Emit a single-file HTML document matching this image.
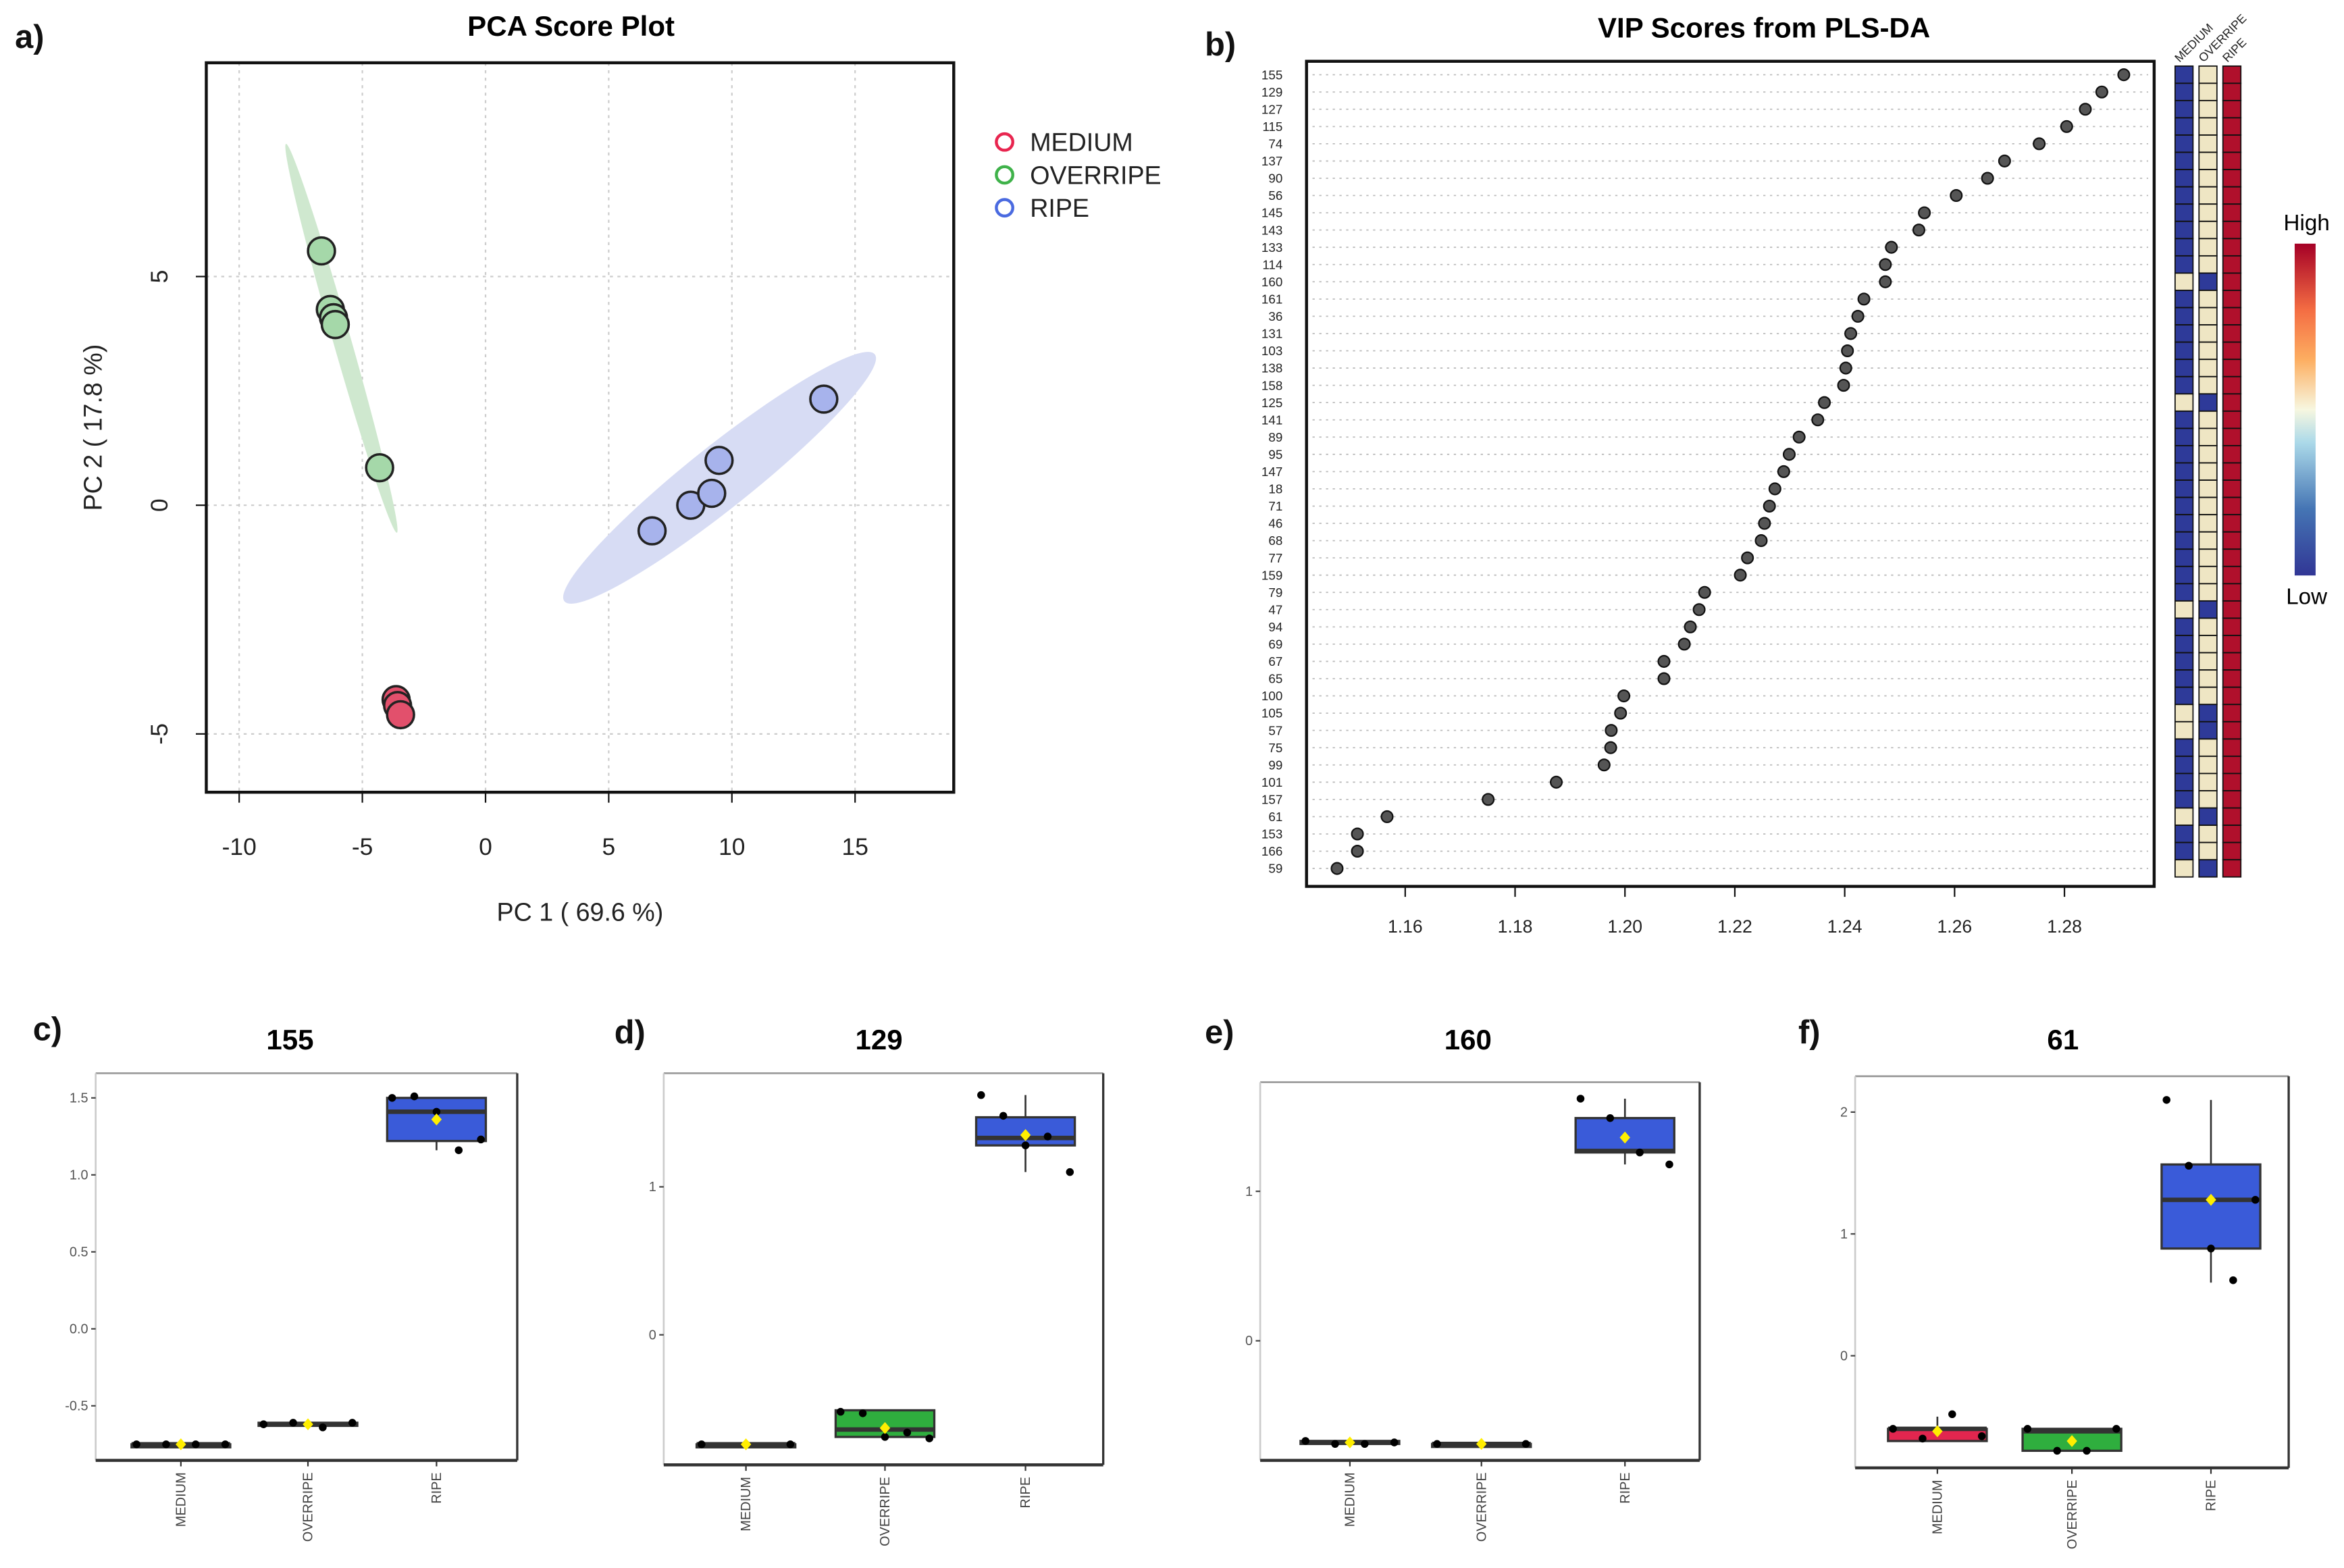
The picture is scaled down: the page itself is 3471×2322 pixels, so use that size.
<!DOCTYPE html>
<html><head><meta charset="utf-8"><style>
html,body{margin:0;padding:0;background:#fff}
svg{display:block}
text{font-family:"Liberation Sans",sans-serif}
</style></head><body>
<svg id="fig" width="3471" height="2322" viewBox="0 0 1568 1049" preserveAspectRatio="none" xmlns="http://www.w3.org/2000/svg"></svg>
<script>
// ---------- PCA data ----------
const pcaGroups = ["MEDIUM","OVERRIPE","RIPE"];
const pcaX_medium = [-3.63,-3.57,-3.45];
const pcaY_medium = [-4.25,-4.38,-4.58];
const pcaX_overripe = [-6.66,-6.3,-6.17,-6.1,-4.3];
const pcaY_overripe = [5.56,4.28,4.1,3.95,0.82];
const pcaX_ripe = [6.76,8.33,9.18,9.48,13.73];
const pcaY_ripe = [-0.56,0.0,0.26,0.98,2.32];
const pcaXTicks = [-10,-5,0,5,10,15];
const pcaYTicks = [5,0,-5];
// ---------- VIP data ----------
const vipLabels = ["155","129","127","115","74","137","90","56","145","143","133","114","160","161","36","131","103","138","158","125","141","89","95","147","18","71","46","68","77","159","79","47","94","69","67","65","100","105","57","75","99","101","157","61","153","166","59"];
const vipScores = [1.2908,1.2868,1.2838,1.2804,1.2754,1.2691,1.2660,1.2603,1.2545,1.2535,1.2485,1.2474,1.2474,1.2435,1.2424,1.2411,1.2405,1.2402,1.2398,1.2363,1.2351,1.2317,1.2299,1.2289,1.2273,1.2263,1.2254,1.2248,1.2223,1.2210,1.2145,1.2135,1.2119,1.2108,1.2071,1.2071,1.1998,1.1992,1.1975,1.1974,1.1962,1.1875,1.1751,1.1567,1.1513,1.1513,1.1476];
const heatMedium = [0,0,0,0,0,0,0,0,0,0,0,0,1,0,0,0,0,0,0,1,0,0,0,0,0,0,0,0,0,0,0,1,0,0,0,0,0,1,1,0,0,0,0,1,0,0,1];
const vipTicks = [1.16,1.18,1.20,1.22,1.24,1.26,1.28];
// ---------- Boxplot data ----------
const boxCats = ["MEDIUM","OVERRIPE","RIPE"];
const boxTitles = ["155","129","160","61"];
const boxQ1 = [[-0.75,-0.63,1.22],[-0.74,-0.69,1.28],[-0.69,-0.69,1.26],[-0.7,-0.78,0.88]];
const boxMed = [[-0.75,-0.62,1.41],[-0.74,-0.64,1.33],[-0.68,-0.69,1.27],[-0.6,-0.62,1.28]];
const boxQ3 = [[-0.75,-0.61,1.5],[-0.74,-0.51,1.47],[-0.67,-0.69,1.49],[-0.6,-0.6,1.57]];
const boxLo = [[-0.75,-0.63,1.16],[-0.74,-0.69,1.1],[-0.69,-0.69,1.18],[-0.7,-0.78,0.6]];
const boxHi = [[-0.75,-0.61,1.5],[-0.74,-0.51,1.62],[-0.67,-0.69,1.62],[-0.5,-0.6,2.1]];
const boxMean = [[-0.75,-0.62,1.36],[-0.74,-0.63,1.35],[-0.68,-0.69,1.36],[-0.62,-0.7,1.28]];
const boxPts = [
 [[-0.75,-0.75,-0.75,-0.75],[-0.62,-0.61,-0.64,-0.61],[1.5,1.51,1.41,1.16,1.23]],
 [[-0.74,-0.74,-0.74],[-0.52,-0.53,-0.69,-0.66,-0.7],[1.62,1.48,1.28,1.34,1.1]],
 [[-0.67,-0.69,-0.69,-0.68],[-0.69,-0.69,-0.69],[1.62,1.49,1.26,1.18]],
 [[-0.6,-0.68,-0.48,-0.66],[-0.6,-0.78,-0.78,-0.6],[2.1,1.56,0.88,0.62,1.28]]
];
const boxYTicks = [[1.5,1.0,0.5,0.0,-0.5],[1,0],[1,0],[2,1,0]];
const boxYTickLabels = [["1.5","1.0","0.5","0.0","-0.5"],["1","0"],["1","0"],["2","1","0"]];

const NS="http://www.w3.org/2000/svg";
const svg=document.getElementById('fig');
function mk(tag,attrs,parent,txt){const e=document.createElementNS(NS,tag);for(const k in attrs)e.setAttribute(k,attrs[k]);if(txt!==undefined)e.textContent=txt;(parent||svg).appendChild(e);return e;}

const letters=[["a)",10,32],["b)",806,37],["c)",22,696],["d)",411,698],["e)",806,698],["f)",1203,698]];
letters.forEach(l=>{const t=mk('text',{x:l[1],y:l[2],'font-size':22,'font-weight':'bold',fill:'#111'},svg,l[0]);

});

// ===== PCA =====
const gA=mk('g',{});


const px=v=>324.8+v*16.48, py=v=>338-v*30.6;
let t=mk('text',{x:382,y:24,'font-size':19,'font-weight':'bold','text-anchor':'middle'},gA,'PCA Score Plot');


pcaXTicks.forEach(v=>{const l=mk('line',{x1:px(v),x2:px(v),y1:42,y2:530,stroke:'#ccc','stroke-dasharray':'2,3'},gA);

});
pcaYTicks.forEach(v=>{const l=mk('line',{x1:138,x2:638,y1:py(v),y2:py(v),stroke:'#ccc','stroke-dasharray':'2,3'},gA);

});
function ell(x1,y1,x2,y2,w,fill,name){const cx=(x1+x2)/2,cy=(y1+y2)/2,len=Math.hypot(x2-x1,y2-y1)/2,ang=Math.atan2(y2-y1,x2-x1)*180/Math.PI;
const e=mk('ellipse',{cx,cy,rx:len,ry:w,fill,transform:`rotate(${ang} ${cx} ${cy})`},gA);

}
ell(px(-8.1),py(7.9),px(-3.6),py(-0.6),6,'#cfe8cf','overripe-ellipse');
ell(px(3.2),py(-2.1),px(15.8),py(3.3),21,'#d7dcf4','ripe-ellipse');
function pts(xs,ys,fill,name){xs.forEach((x,i)=>{const c=mk('circle',{cx:px(x),cy:py(ys[i]),r:9,fill,stroke:'#222','stroke-width':1.6},gA);

});}
pts(pcaX_overripe,pcaY_overripe,'#a5d8a9','overripe-point');
pts(pcaX_ripe,pcaY_ripe,'#a7b3ec','ripe-point');
pts(pcaX_medium,pcaY_medium,'#e2506c','medium-point');
let r=mk('rect',{x:138,y:42,width:500,height:488,fill:'none',stroke:'#111','stroke-width':2},gA);


pcaXTicks.forEach(v=>{mk('line',{x1:px(v),x2:px(v),y1:530,y2:537,stroke:'#111'},gA);
const tt=mk('text',{x:px(v),y:572,'font-size':16,'text-anchor':'middle',fill:'#222'},gA,String(v));

});
pcaYTicks.forEach(v=>{mk('line',{x1:131,x2:138,y1:py(v),y2:py(v),stroke:'#111'},gA);
const tt=mk('text',{x:112,y:py(v),'font-size':16,'text-anchor':'middle',fill:'#222',transform:`rotate(-90 112 ${py(v)})`},gA,String(v));

});
t=mk('text',{x:388,y:616,'font-size':17,'text-anchor':'middle',fill:'#222'},gA,'PC 1 ( 69.6 %)');


t=mk('text',{x:68,y:286,'font-size':17,'text-anchor':'middle',fill:'#222',transform:'rotate(-90 68 286)'},gA,'PC 2 ( 17.8 %)');


const legC=['#e8254f','#3fb24a','#4a6ae0'];
pcaGroups.forEach((g,i)=>{const gy=95+i*22;const lg=mk('g',{},gA);


mk('circle',{cx:672,cy:gy,r:5.5,fill:'none',stroke:legC[i],'stroke-width':2},lg);mk('text',{x:689,y:gy+6,'font-size':17,fill:'#222'},lg,g);});

// ===== VIP =====
const gB=mk('g',{});


const vx=v=>940+(v-1.16)*(441/0.12), vy=i=>50+i*(531/46);
t=mk('text',{x:1180,y:25,'font-size':19,'font-weight':'bold','text-anchor':'middle'},gB,'VIP Scores from PLS-DA');


vipLabels.forEach((lab,i)=>{const y=vy(i);
const g=mk('line',{x1:878,x2:1437,y1:y,y2:y,stroke:'#bbb','stroke-dasharray':'1.5,3','stroke-width':0.8},gB);


const tl=mk('text',{x:858,y:y+3,'font-size':8.5,'text-anchor':'end',fill:'#222'},gB,lab);


const c=mk('circle',{cx:vx(vipScores[i]),cy:y,r:3.8,fill:'#555',stroke:'#111','stroke-width':1},gB);


const cols=[heatMedium[i]?'#efe6c4':'#2e3a99',heatMedium[i]?'#2e3a99':'#efe6c4','#b0102c'];
cols.forEach((cc,j)=>{const hr=mk('rect',{x:1455+j*16,y:y-5.8,width:12,height:11.5,fill:cc,stroke:'#111','stroke-width':0.8},gB);

});
});
r=mk('rect',{x:874,y:41,width:567,height:552,fill:'none',stroke:'#111','stroke-width':2},gB);


vipTicks.forEach(v=>{mk('line',{x1:vx(v),x2:vx(v),y1:593,y2:600,stroke:'#111'},gB);
const tt=mk('text',{x:vx(v),y:624,'font-size':12,'text-anchor':'middle',fill:'#222'},gB,v.toFixed(2));

});
['MEDIUM','OVERRIPE','RIPE'].forEach((c,j)=>{const x=1458+j*16,y=42;const tt=mk('text',{x,y,'font-size':8,fill:'#222',transform:`rotate(-45 ${x} ${y})`},gB,c);

});
const defs=mk('defs',{});const lgd=mk('linearGradient',{id:'cb',x1:0,y1:1,x2:0,y2:0},defs);
[['0','#313695'],['0.2','#4575b4'],['0.4','#abd9e9'],['0.5','#f7f7e0'],['0.65','#fdae61'],['0.8','#f46d43'],['1','#a50026']].forEach(s=>mk('stop',{offset:s[0],'stop-color':s[1]},lgd));
r=mk('rect',{x:1535,y:163,width:14,height:222,fill:'url(#cb)'},gB);


t=mk('text',{x:1543,y:154,'font-size':15,'text-anchor':'middle'},gB,'High');


t=mk('text',{x:1543,y:404,'font-size':15,'text-anchor':'middle'},gB,'Low');



// ===== Boxplots =====
const panels=[{x0:64,x1:346,y0:718,y1:977,z:889,s:103,cx:[121,206,292]},
{x0:444,x1:738,y0:718,y1:980,z:893,s:99,cx:[499,592,686]},
{x0:843,x1:1137,y0:724,y1:977,z:897,s:100,cx:[903,991,1087]},
{x0:1241,x1:1531,y0:720,y1:982,z:907,s:81.5,cx:[1296,1386,1479]}];
const titleX=[194,588,982,1380];
const fills=['#e2264f','#2fae3e','#3a5bd9'];
panels.forEach((P,k)=>{const g=mk('g',{});


const by=v=>P.z-v*P.s;
const tt=mk('text',{x:titleX[k],y:702,'font-size':19,'font-weight':'bold','text-anchor':'middle'},g,boxTitles[k]);


mk('line',{x1:P.x0,x2:P.x1,y1:P.y0,y2:P.y0,stroke:'#999','stroke-width':1.2},g);
mk('line',{x1:P.x0,x2:P.x0,y1:P.y0,y2:P.y1,stroke:'#ccc','stroke-width':1.2},g);
mk('line',{x1:P.x1,x2:P.x1,y1:P.y0,y2:P.y1,stroke:'#333','stroke-width':1.5},g);
mk('line',{x1:P.x0,x2:P.x1,y1:P.y1,y2:P.y1,stroke:'#333','stroke-width':2},g);
boxYTicks[k].forEach((v,i)=>{mk('line',{x1:P.x0-3,x2:P.x0,y1:by(v),y2:by(v),stroke:'#444'},g);
const tl=mk('text',{x:P.x0-5,y:by(v)+3,'font-size':9,'text-anchor':'end',fill:'#555'},g,boxYTickLabels[k][i]);

});
boxCats.forEach((c,j)=>{const x=P.cx[j],w=33;
mk('line',{x1:x,x2:x,y1:P.y1,y2:P.y1+4,stroke:'#333'},g);
const cl=mk('text',{x:x+3,y:P.y1+8,'font-size':9,'text-anchor':'end',fill:'#444',transform:`rotate(-90 ${x+3} ${P.y1+8})`},g,c);


mk('line',{x1:x,x2:x,y1:by(boxLo[k][j]),y2:by(boxHi[k][j]),stroke:'#333','stroke-width':1.2},g);
const q3=by(boxQ3[k][j]),q1=by(boxQ1[k][j]);
const b=mk('rect',{x:x-w,y:q3,width:2*w,height:Math.max(q1-q3,2),fill:fills[j],stroke:'#333','stroke-width':1.5},g);


mk('line',{x1:x-w,x2:x+w,y1:by(boxMed[k][j]),y2:by(boxMed[k][j]),stroke:'#333','stroke-width':3},g);
const n=boxPts[k][j].length;
boxPts[k][j].forEach((v,i)=>{const d=mk('circle',{cx:x-w*0.9+i*(1.8*w/Math.max(1,n-1)),cy:by(v),r:2.6,fill:'#000'},g);

});
const m=by(boxMean[k][j]);const md=mk('path',{d:`M${x} ${m-4}L${x+3.5} ${m}L${x} ${m+4}L${x-3.5} ${m}Z`,fill:'#ffee00'},g);


});
});
</script>
</body></html>
